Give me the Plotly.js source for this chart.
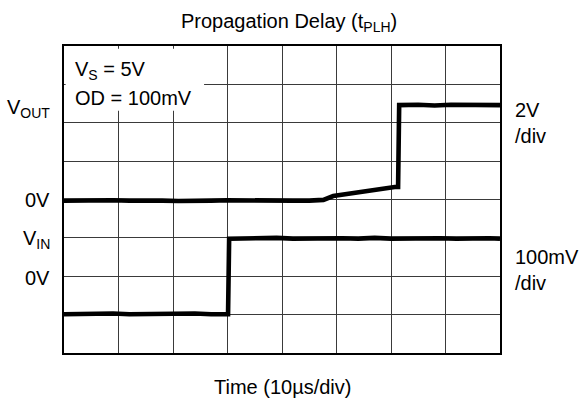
<!DOCTYPE html>
<html>
<head>
<meta charset="utf-8">
<script src="https://cdn.plot.ly/plotly-3.0.1.min.js"></script>
<style>
html,body{margin:0;padding:0;background:#fff;}
#chart{width:582px;height:403px;}
</style>
</head>
<body>
<div id="chart"></div>
<script>
// Time in divisions (10 µs/div), amplitude in screen divisions
const voutTime = [0, 0.3, 0.6, 0.9, 1.2, 1.5, 1.8, 2.1, 2.4, 2.7, 3.0, 3.3, 3.6, 3.9, 4.2, 4.5, 4.76, 4.94, 5.25, 5.55, 5.86, 6.10, 6.13, 6.15, 6.5, 6.8, 7.1, 7.4, 7.7, 8.0];
const voutValue = [3.97, 3.98, 3.96, 3.98, 3.97, 3.98, 3.97, 3.96, 3.98, 3.97, 3.98, 3.97, 3.96, 3.98, 3.97, 3.97, 3.99, 4.09, 4.16, 4.23, 4.29, 4.33, 4.33, 6.46, 6.47, 6.45, 6.47, 6.46, 6.47, 6.46];
const vinTime = [0, 0.3, 0.6, 0.9, 1.2, 1.5, 1.8, 2.1, 2.4, 2.7, 3.01, 3.03, 3.3, 3.6, 3.9, 4.2, 4.5, 4.8, 5.1, 5.4, 5.7, 6.0, 6.3, 6.6, 6.9, 7.2, 7.5, 7.8, 8.0];
const vinValue = [1.01, 1.02, 1.01, 1.03, 1.01, 1.02, 1.01, 1.02, 1.03, 1.01, 1.01, 2.98, 2.99, 2.98, 3.0, 2.98, 2.99, 2.98, 2.99, 2.98, 3.0, 2.98, 2.99, 2.98, 2.99, 2.98, 3.0, 2.99, 2.98];

const titleText = 'Propagation Delay (t<sub>PLH</sub>)';
const xTitleText = 'Time (10µs/div)';
const leftLabels = ['V<sub>OUT</sub>', '0V', 'V<sub>IN</sub>', '0V'];
const leftLabelPos = [6.38, 4.0, 2.96, 1.96];
const rightLabels = ['2V<br>/div', '100mV<br>/div'];
const rightLabelPos = [6.0, 2.15];
const noteLines = ['V<sub>S</sub> = 5V', 'OD = 100mV'];
const notePos = [7.36, 6.64];

const FONT = 'Liberation Sans, Arial, Helvetica, sans-serif';
const fs = 20;

const traces = [
  {x: voutTime, y: voutValue, type: 'scatter', mode: 'lines',
   line: {color: '#000', width: 4.6}, hoverinfo: 'skip'},
  {x: vinTime, y: vinValue, type: 'scatter', mode: 'lines',
   line: {color: '#000', width: 4.6}, hoverinfo: 'skip'}
];

const annotations = [];
annotations.push({text: titleText, xref: 'paper', yref: 'paper', x: 0.515, y: 1.078,
  xanchor: 'center', yanchor: 'middle', showarrow: false, font: {family: FONT, size: fs, color: '#000'}});
annotations.push({text: xTitleText, xref: 'paper', yref: 'paper', x: 0.5, y: -0.111,
  xanchor: 'center', yanchor: 'middle', showarrow: false, font: {family: FONT, size: fs, color: '#000'}});
leftLabels.forEach((t, i) => annotations.push({text: t, xref: 'paper', yref: 'y', x: -0.027, y: leftLabelPos[i],
  xanchor: 'right', yanchor: 'middle', showarrow: false, font: {family: FONT, size: fs, color: '#000'}}));
rightLabels.forEach((t, i) => annotations.push({text: t, xref: 'paper', yref: 'y', x: 1.03, y: rightLabelPos[i],
  xanchor: 'left', yanchor: 'middle', align: 'left', showarrow: false, font: {family: FONT, size: fs, color: '#000'}}));
noteLines.forEach((t, i) => annotations.push({text: t, xref: 'x', yref: 'y', x: 0.17, y: notePos[i],
  xanchor: 'left', yanchor: 'middle', align: 'left', showarrow: false, font: {family: FONT, size: fs, color: '#000'}}));

const layout = {
  width: 582, height: 403,
  margin: {l: 64, r: 82, t: 46, b: 50},
  paper_bgcolor: '#fff', plot_bgcolor: '#fff',
  showlegend: false,
  xaxis: {range: [0, 8], dtick: 1, tick0: 0, showticklabels: false, ticks: '',
    showgrid: true, gridcolor: '#3a3a3a', gridwidth: 1, zeroline: false,
    showline: true, linecolor: '#000', linewidth: 2, mirror: true, fixedrange: true},
  yaxis: {range: [0, 8], dtick: 1, tick0: 0, showticklabels: false, ticks: '',
    showgrid: true, gridcolor: '#3a3a3a', gridwidth: 1, zeroline: false,
    showline: true, linecolor: '#000', linewidth: 2, mirror: true, fixedrange: true},
  shapes: [{type: 'rect', xref: 'x', yref: 'y', x0: 0.03, x1: 2.57, y0: 6.31, y1: 7.93,
    fillcolor: '#fff', line: {width: 0}, layer: 'above'}],
  annotations: annotations
};

Plotly.newPlot('chart', traces, layout, {staticPlot: true, displayModeBar: false});
</script>
</body>
</html>
